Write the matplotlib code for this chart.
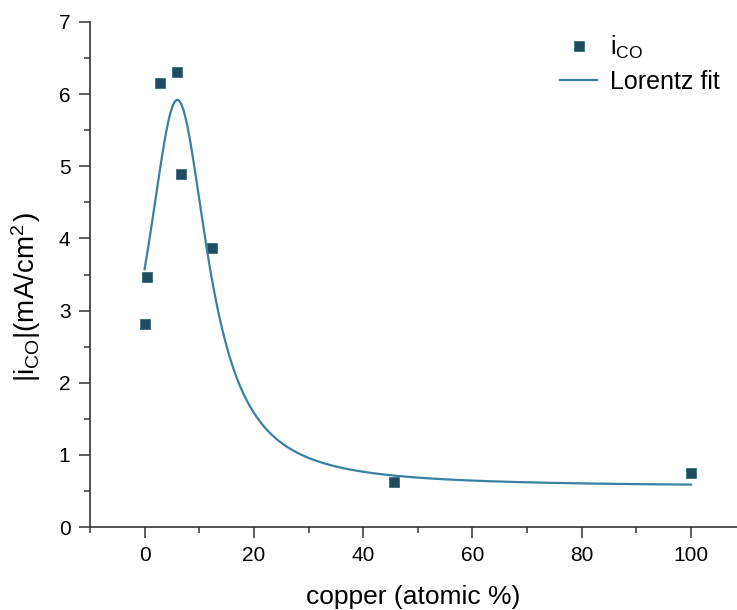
import numpy as np
import matplotlib
matplotlib.use('Agg')
import matplotlib.pyplot as plt
from matplotlib.ticker import MultipleLocator

plt.rcParams['font.family'] = ['Liberation Sans', 'DejaVu Sans']
plt.rcParams['mathtext.fontset'] = 'custom'
plt.rcParams['mathtext.rm'] = 'Liberation Sans'
plt.rcParams['mathtext.it'] = 'Liberation Sans:italic'

# measured CO partial current vs copper content
copper = [0.0, 0.5, 2.8, 6.0, 6.6, 12.3, 45.6, 100.0]
i_co = [2.82, 3.47, 6.16, 6.31, 4.89, 3.87, 0.62, 0.75]

# Lorentz fit parameters: offset, centre, FWHM, peak height above offset
y0 = 0.56
xc = 6.0
w = 13.6
h = 5.36

point_color = '#1f4d5f'
fit_color = '#3a80a2'

fig = plt.figure(figsize=(7.37, 6.10), dpi=100)
ax = fig.add_axes([0.122, 0.136, 0.878, 0.828])

xf = np.linspace(0, 100, 500)
yf = y0 + h / (1 + 4 * (xf - xc) ** 2 / w ** 2)

ax.plot(copper, i_co, 's', color=point_color, markersize=7.8,
        markeredgecolor='#3d6a7a', markeredgewidth=0.6, label=r'i$_{\mathrm{CO}}$')
ax.plot(xf, yf, '-', color=fit_color, linewidth=1.6, label='Lorentz fit')

ax.set_xlim(-10, 108.4)
ax.set_ylim(0, 7)
ax.xaxis.set_major_locator(MultipleLocator(20))
ax.xaxis.set_minor_locator(MultipleLocator(10))
ax.yaxis.set_major_locator(MultipleLocator(1))
ax.yaxis.set_minor_locator(MultipleLocator(0.5))

for s in ['top', 'right']:
    ax.spines[s].set_visible(False)
for s in ['left', 'bottom']:
    ax.spines[s].set_linewidth(1.2)
    ax.spines[s].set_color('#333333')

ax.tick_params(which='major', direction='out', length=8, width=1.2,
               color='#444444', labelsize=15, pad=6)
ax.tick_params(which='minor', direction='out', length=4.5, width=1.2,
               color='#444444')

ax.set_xlabel('copper (atomic %)', fontsize=19, labelpad=14)
ax.set_ylabel(r'|i$_{\mathrm{CO}}$|(mA/cm$^{2\,}$)', fontsize=20)
ax.yaxis.set_label_coords(-0.073, 0.455)

ax.legend(loc='upper right', bbox_to_anchor=(1.0, 1.011), frameon=False,
          fontsize=18, handlelength=1.5, handletextpad=0.5, labelspacing=0.35,
          borderaxespad=0.3)

fig.savefig('out.png', dpi=100)
